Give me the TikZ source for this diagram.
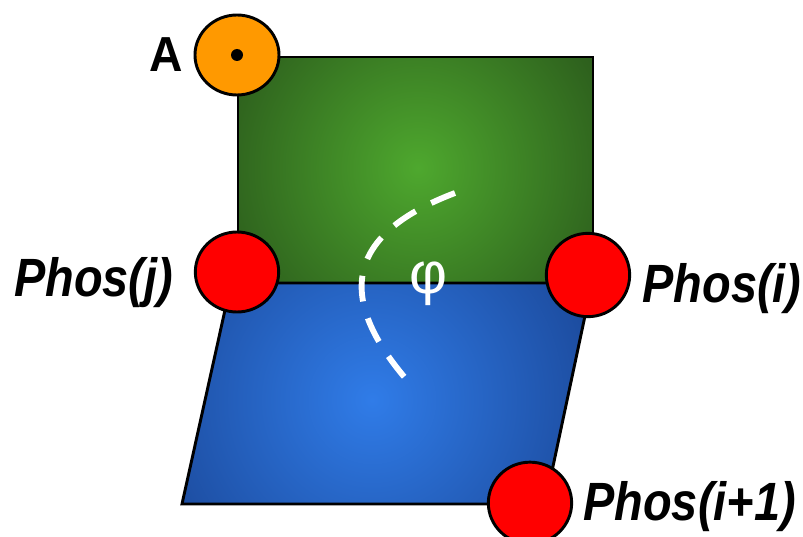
\documentclass[tikz,border=0pt]{standalone}
\usepackage{fontspec}
\setmainfont{Liberation Sans}
\usepackage{tikz}
\usetikzlibrary{positioning,shapes.geometric}
\definecolor{grnlite}{RGB}{78,168,46}
\definecolor{grndark}{RGB}{40,84,26}
\definecolor{bluelite}{RGB}{48,124,232}
\definecolor{bluedark}{RGB}{26,70,150}
\definecolor{atomorg}{RGB}{255,153,0}
\newcommand{\plabel}[1]{\scalebox{0.87}[1]{\fontsize{46}{50}\selectfont\bfseries\itshape #1}}

\begin{document}
\begin{tikzpicture}[x=0.03cm,y=-0.03cm,
  edge/.style={draw=black,line width=2.5pt,line join=miter},
  phos/.style={ellipse,draw=black,line width=2.5pt,fill=red,inner sep=0pt,
    minimum width=2.5cm,minimum height=2.4cm},
  lbl/.style={inner sep=0pt},
  dashcurve/.style={draw=white,line width=5pt,dash pattern=on 22pt off 15pt}]
  \useasboundingbox (0,0) rectangle (803,537);
  % green plane
  \begin{scope}
    \clip (238,57) rectangle (593,283);
    \shade[inner color=grnlite,outer color=grndark] (418,168) circle (235);
  \end{scope}
  \draw[edge] (238,57) rectangle (593,283);
  % blue plane
  \begin{scope}
    \clip (231,283) -- (592,283) -- (545,504) -- (182,504) -- cycle;
    \shade[inner color=bluelite,outer color=bluedark] (372,400) circle (255);
  \end{scope}
  \draw[edge] (231,283) -- (592,283) -- (545,504) -- (182,504) -- cycle;
  % angle between planes
  \draw[dashcurve] (455,193) .. controls (352,232) and (332,292) .. (406,379);
  \node[lbl,text=white,font=\fontsize{50}{54}\selectfont] (phi) at (428,284) {φ};
  % atoms
  \node[phos,fill=atomorg,minimum width=2.52cm] (atomA) at (237,55) {};
  \fill (atomA.center) circle (6);
  \node[phos] (pj) at (237,272) {};
  \node[phos,minimum height=2.5cm] (pi) at (588,275) {};
  \node[phos,minimum height=2.45cm] (pi1) at (530,503) {};
  \node[lbl,left=0.3cm of atomA] (lblA) {\scalebox{0.94}[1]{\fontsize{42}{46}\selectfont\bfseries A}};
  \node[lbl,left=0.62cm of pj,yshift=-0.33cm] (lblj) {\plabel{Phos(j)}};
  \node[lbl,right=0.34cm of pi,yshift=-0.4cm] (lbli) {\plabel{Phos(i)}};
  \node[lbl,right=0.3cm of pi1,yshift=-0.12cm] (lbli1) {\plabel{Phos(i+1)}};
\end{tikzpicture}
\end{document}
